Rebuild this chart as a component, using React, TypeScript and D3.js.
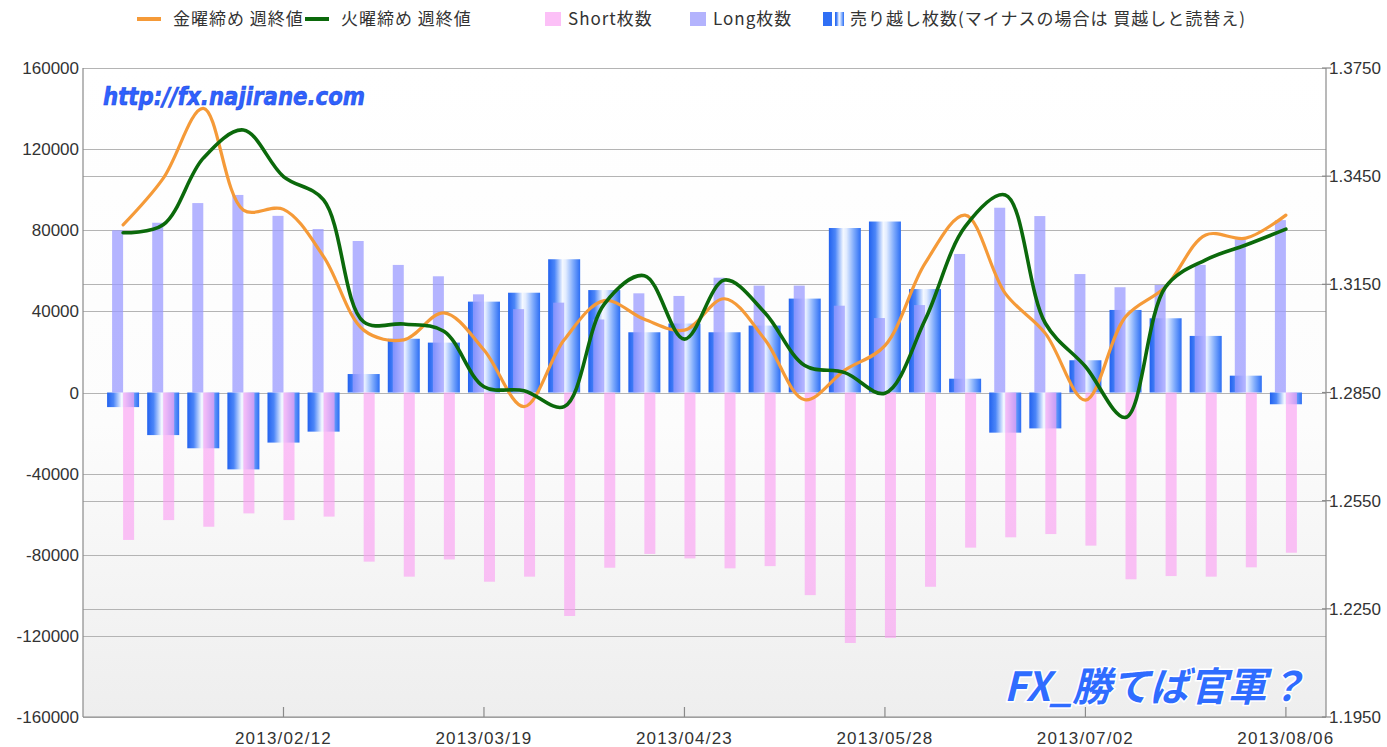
import React, { useEffect, useRef } from 'react';
import * as d3 from 'd3';

// weekly data (Tuesday dates)
const weeks = [
    '2013/01/15', '2013/01/22', '2013/01/29', '2013/02/05', '2013/02/12', '2013/02/19',
    '2013/02/26', '2013/03/05', '2013/03/12', '2013/03/19', '2013/03/26', '2013/04/02',
    '2013/04/09', '2013/04/16', '2013/04/23', '2013/04/30', '2013/05/07', '2013/05/14',
    '2013/05/21', '2013/05/28', '2013/06/04', '2013/06/11', '2013/06/18', '2013/06/25',
    '2013/07/02', '2013/07/09', '2013/07/16', '2013/07/23', '2013/07/30', '2013/08/06'
];
const fridayClose = [
    1.3315, 1.3444, 1.3638, 1.3356, 1.3358, 1.3227, 1.3023, 1.2996, 1.3071, 1.2968,
    1.2811, 1.2996, 1.3105, 1.3053, 1.3023, 1.3110, 1.2998, 1.2830, 1.2912, 1.2980,
    1.3208, 1.3342, 1.3125, 1.3014, 1.2829, 1.3060, 1.3143, 1.3287, 1.3278, 1.3342
];
const tuesdayClose = [
    1.3293, 1.3315, 1.3500, 1.3578, 1.3449, 1.3384, 1.3046, 1.3040, 1.3020, 1.2866,
    1.2855, 1.2811, 1.3095, 1.3174, 1.2998, 1.3162, 1.3072, 1.2925, 1.2905, 1.2848,
    1.3051, 1.3310, 1.3398, 1.3042, 1.2922, 1.2781, 1.3143, 1.3218, 1.3259, 1.3303
];
const shortCount = [
    -72700, -62900, -66200, -59600, -62900, -61200, -83400, -90800, -82300, -93300,
    -90800, -110200, -86400, -79600, -81800, -86700, -85600, -99900, -123500, -121000,
    -95800, -76500, -71400, -69800, -75500, -92100, -90500, -90800, -86200, -79000
];
const longCount = [
    80000, 83700, 93400, 97400, 87100, 80600, 74700, 62900, 57300, 48400,
    41100, 44300, 36000, 48900, 47600, 56600, 52700, 52700, 42800, 36700,
    43100, 68300, 91100, 87000, 58400, 51900, 53000, 62900, 75500, 85000
];
const netShort = [
    -7200, -21000, -27500, -37900, -24700, -19300, 9100, 26500, 24600, 44800,
    49200, 65700, 50500, 29700, 34000, 29700, 33000, 46300, 81100, 84300,
    51000, 6800, -19800, -17700, 15900, 40700, 36600, 27900, 8300, -5800
];
const leftTicks = [160000, 120000, 80000, 40000, 0, -40000, -80000, -120000, -160000];
const rightTicks = [1.375, 1.345, 1.315, 1.285, 1.255, 1.225, 1.195];
const dateTicks = ['2013/02/12', '2013/03/19', '2013/04/23', '2013/05/28', '2013/07/02', '2013/08/06'];

const legendItems = [
    { label: '金曜締め 週終値', kind: 'line', color: '#f59a38' },
    { label: '火曜締め 週終値', kind: 'line', color: '#0b690b' },
    { label: 'Short枚数', kind: 'box', color: '#fcc0f7' },
    { label: 'Long枚数', kind: 'box', color: '#b3b3fd' },
    { label: '売り越し枚数(マイナスの場合は 買越しと読替え)', kind: 'net', color: '#2f6ff5' }
];

const App = () => {
    const ref = useRef<SVGSVGElement | null>(null);

    useEffect(() => {
        document.body.style.margin = '0';
        const svg = d3.select(ref.current);
        svg.selectAll('*').remove();

        const margin = { top: 68, right: 61, bottom: 30, left: 83 };
        const width = 1387, height = 747;
        const parse = d3.timeParse('%Y/%m/%d');
        const dates = weeks.map(w => parse(w) as Date);
        const tickDates = dateTicks.map(w => parse(w) as Date);

        const x = d3.scaleTime()
            .domain([d3.timeWeek.offset(dates[0], -1), d3.timeWeek.offset(dates[dates.length - 1], 1)])
            .range([margin.left, width - margin.right]);
        const yL = d3.scaleLinear().domain([-160000, 160000]).range([height - margin.bottom, margin.top]);
        const yR = d3.scaleLinear().domain([1.195, 1.375]).range([height - margin.bottom, margin.top]);
        const x0 = margin.left, x1 = width - margin.right;
        const yTop = margin.top, yBot = height - margin.bottom;

        const defs = svg.append('defs');
        const bg = defs.append('linearGradient').attr('id', 'bg').attr('x1', 0).attr('y1', 0).attr('x2', 0).attr('y2', 1);
        bg.append('stop').attr('offset', '0').attr('stop-color', '#ffffff');
        bg.append('stop').attr('offset', '0.55').attr('stop-color', '#fcfcfc');
        bg.append('stop').attr('offset', '1').attr('stop-color', '#eeeeee');

        const ng = defs.append('linearGradient').attr('id', 'net').attr('x1', 0).attr('y1', 0).attr('x2', 1).attr('y2', 0);
        [['0', '#2262ef'], ['0.2', '#4c86f8'], ['0.45', '#f4f8ff'], ['0.55', '#e2ecff'], ['0.78', '#7fabfc'], ['1', '#2c6ef4']]
            .forEach(([o, c]) => ng.append('stop').attr('offset', o).attr('stop-color', c));

        svg.append('rect').attr('x', x0).attr('y', yTop).attr('width', x1 - x0).attr('height', yBot - yTop).attr('fill', 'url(#bg)');

        // grid lines from both axes
        const grid = svg.append('g').attr('stroke', '#b4b4b4').attr('stroke-width', 1);
        leftTicks.forEach(t => grid.append('line').attr('x1', x0).attr('x2', x1).attr('y1', Math.round(yL(t)) + 0.5).attr('y2', Math.round(yL(t)) + 0.5));
        rightTicks.forEach(t => grid.append('line').attr('x1', x0).attr('x2', x1).attr('y1', Math.round(yR(t)) + 0.5).attr('y2', Math.round(yR(t)) + 0.5));

        // net short bars (gradient)
        svg.append('g').selectAll('rect')
            .data(netShort)
            .enter().append('rect')
            .attr('x', (d, i) => x(dates[i]) - 16)
            .attr('width', 32)
            .attr('y', d => yL(Math.max(0, d)))
            .attr('height', d => Math.abs(yL(d) - yL(0)))
            .attr('fill', 'url(#net)');

        svg.append('g').selectAll('rect')
            .data(longCount)
            .enter().append('rect')
            .attr('x', (d, i) => x(dates[i]) - 11)
            .attr('width', 11)
            .attr('y', d => yL(d))
            .attr('height', d => yL(0) - yL(d))
            .attr('fill', '#9a9aff')
            .attr('opacity', 0.74);

        svg.append('g').selectAll('rect')
            .data(shortCount)
            .enter().append('rect')
            .attr('x', (d, i) => x(dates[i]))
            .attr('width', 11)
            .attr('y', yL(0))
            .attr('height', d => yL(d) - yL(0))
            .attr('fill', '#fb9ff2')
            .attr('opacity', 0.64);

        const line = (vals: number[]) => d3.line<number>()
            .x((d, i) => x(dates[i]))
            .y(d => yR(d))
            .curve(d3.curveCatmullRom.alpha(0.5))(vals);

        svg.append('path').attr('d', line(fridayClose)).attr('fill', 'none')
            .attr('stroke', '#f59a38').attr('stroke-width', 3.2).attr('stroke-linecap', 'round');
        svg.append('path').attr('d', line(tuesdayClose)).attr('fill', 'none')
            .attr('stroke', '#0b690b').attr('stroke-width', 3.6).attr('stroke-linecap', 'round');

        // axes frame
        const ax = svg.append('g').attr('stroke', '#8a8a8a').attr('stroke-width', 1.2);
        ax.append('line').attr('x1', x0).attr('x2', x0).attr('y1', yTop).attr('y2', yBot);
        ax.append('line').attr('x1', x1).attr('x2', x1).attr('y1', yTop).attr('y2', yBot);
        ax.append('line').attr('x1', x0).attr('x2', x1).attr('y1', yBot).attr('y2', yBot);
        tickDates.forEach(d => ax.append('line').attr('x1', x(d)).attr('x2', x(d)).attr('y1', yBot).attr('y2', yBot - 10));
        rightTicks.forEach(t => ax.append('line').attr('x1', x1 - 4).attr('x2', x1 + 5).attr('y1', yR(t)).attr('y2', yR(t)));

        const labelFont = "'Liberation Sans', Arial, sans-serif";
        svg.append('g').selectAll('text')
            .data(leftTicks)
            .enter().append('text')
            .attr('x', 79)
            .attr('y', d => yL(d))
            .attr('dy', '0.36em')
            .attr('text-anchor', 'end')
            .attr('font-family', labelFont)
            .attr('font-size', 17)
            .attr('fill', '#333')
            .text(d => String(d));

        svg.append('g').selectAll('text')
            .data(rightTicks)
            .enter().append('text')
            .attr('x', 1329)
            .attr('y', d => yR(d))
            .attr('dy', '0.36em')
            .attr('font-family', labelFont)
            .attr('font-size', 17)
            .attr('fill', '#333')
            .text(d => d.toFixed(4));

        svg.append('g').selectAll('text')
            .data(tickDates)
            .enter().append('text')
            .attr('x', d => x(d))
            .attr('y', 744)
            .attr('text-anchor', 'middle')
            .attr('font-family', labelFont)
            .attr('font-size', 17)
            .attr('letter-spacing', 1.2)
            .attr('fill', '#333')
            .text(d => d3.timeFormat('%Y/%m/%d')(d));

        // legend
        const legendX = [137, 305, 545, 690, 823];
        const lg = svg.append('g').attr('font-family', "'Noto Sans CJK JP', sans-serif")
            .attr('font-size', 17).attr('letter-spacing', 1).attr('fill', '#333');
        legendItems.forEach((item, i) => {
            const g = lg.append('g').attr('transform', `translate(${legendX[i]},19)`);
            if (item.kind === 'line') {
                g.append('line').attr('x1', 0).attr('x2', 24).attr('y1', 0).attr('y2', 0)
                    .attr('stroke', item.color).attr('stroke-width', 4);
                g.append('text').attr('x', 36).attr('dy', '0.35em').text(item.label);
            } else if (item.kind === 'box') {
                g.append('rect').attr('x', 0).attr('y', -7).attr('width', 16).attr('height', 14).attr('fill', item.color);
                g.append('text').attr('x', 23).attr('dy', '0.35em').text(item.label);
            } else {
                g.append('rect').attr('x', 0).attr('y', -7).attr('width', 9).attr('height', 14).attr('fill', item.color);
                g.append('rect').attr('x', 12).attr('y', -7).attr('width', 9).attr('height', 14).attr('fill', 'url(#net)');
                g.append('text').attr('x', 27).attr('dy', '0.35em').text(item.label);
            }
        });

        // watermarks
        svg.append('text')
            .attr('x', 103).attr('y', 105)
            .attr('font-family', "'DejaVu Sans', sans-serif")
            .attr('font-weight', 'bold').attr('font-style', 'italic')
            .attr('font-size', 25)
            .attr('textLength', 262).attr('lengthAdjust', 'spacingAndGlyphs')
            .attr('fill', '#2f62ff').attr('stroke', '#1c46dc').attr('stroke-width', 0.6)
            .text('http://fx.najirane.com');

        svg.append('text')
            .attr('x', 1004).attr('y', 701)
            .attr('font-family', "'Noto Sans CJK JP', sans-serif")
            .attr('font-weight', 'bold').attr('font-style', 'italic')
            .attr('font-size', 40)
            .attr('textLength', 302).attr('lengthAdjust', 'spacingAndGlyphs')
            .attr('fill', '#2f6cff').attr('stroke', '#ffffff').attr('stroke-width', 3)
            .attr('paint-order', 'stroke')
            .text('FX_勝てば官軍？');
    }, []);

    return <svg ref={ref} width={1387} height={747} style={{ display: 'block', background: '#fff' }} />;
};

export default App;
